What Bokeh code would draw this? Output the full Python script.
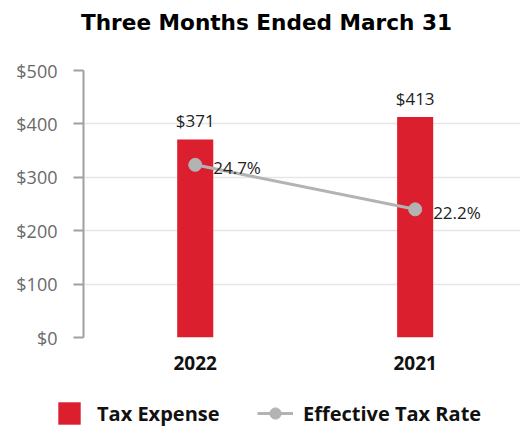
import numpy as np
from bokeh.plotting import figure
from bokeh.layouts import column, row
from bokeh.models import (ColumnDataSource, Range1d, FixedTicker, Legend, LegendItem,
                          LabelSet, Label)
from bokeh.core.properties import value
from bokeh.embed import file_html
from bokeh.resources import INLINE

# ---- data ----
categories = ["2022", "2021"]
tax_expense = [371, 413]
effective_rate = [24.7, 22.2]
tax_labels = ["$371", "$413"]
rate_labels = ["24.7%", "22.2%"]
y_ticks = [0, 100, 200, 300, 400, 500]
y_tick_labels = ["$0", "$100", "$200", "$300", "$400", "$500"]
title_text = "Three Months Ended March 31"
legend_labels = ["Tax Expense", "Effective Tax Rate"]

xs = list(range(len(categories)))
src = ColumnDataSource(dict(x=xs, tax=tax_expense, rate=effective_rate,
                            tax_lbl=tax_labels, rate_lbl=rate_labels))

RED = "#DC1F2F"
GRAY = "#B3B3B3"
FONT = "Open Sans"
W = 520


def bare(h):
    f = figure(width=W, height=h, output_backend="svg", toolbar_location=None,
               x_axis_location=None, y_axis_location=None,
               x_range=Range1d(0, W), y_range=Range1d(0, h))
    f.min_border = 0
    f.min_border_left = 0
    f.min_border_right = 0
    f.min_border_top = 0
    f.min_border_bottom = 0
    f.outline_line_color = None
    f.xgrid.visible = False
    f.ygrid.visible = False
    return f


# ---- title strip ----
TH = 40
tfig = bare(TH)
tfig.add_layout(Label(x=266, y=TH - 22, x_units="screen", y_units="screen", text=title_text,
                      text_align="center", text_baseline="middle",
                      text_font="DejaVu Sans", text_font_size="21.6px",
                      text_font_style="bold", text_color="#000000"))

# ---- main chart ----
p = figure(width=W, height=350, output_backend="svg", toolbar_location=None,
           x_range=Range1d(-0.508, 1.479), y_range=Range1d(0, 500))
p.min_border_left = 83
p.min_border_right = 0
p.min_border_top = 30
p.min_border_bottom = 53
p.outline_line_color = None

p.extra_y_ranges = {"rate": Range1d(15, 30)}

p.xgrid.grid_line_color = None
p.ygrid.grid_line_color = "#E6E6E6"
p.ygrid.grid_line_width = 1.5
p.ygrid.ticker = FixedTicker(ticks=y_ticks)

ya = p.yaxis[0]
ya.ticker = FixedTicker(ticks=y_ticks)
ya.major_label_overrides = {t: l for t, l in zip(y_ticks, y_tick_labels)}
ya.axis_line_color = "#A0A0A0"
ya.axis_line_width = 2
ya.major_tick_line_color = "#A0A0A0"
ya.major_tick_line_width = 2
ya.major_tick_in = 0
ya.major_tick_out = 10
ya.minor_tick_line_color = None
ya.major_label_standoff = 16
ya.major_label_text_font = FONT
ya.major_label_text_font_size = "18px"
ya.major_label_text_color = "#6A6A6A"

xa = p.xaxis[0]
xa.ticker = FixedTicker(ticks=xs)
xa.major_label_overrides = {i: c for i, c in zip(xs, categories)}
xa.axis_line_color = None
xa.major_tick_line_color = None
xa.minor_tick_line_color = None
xa.major_tick_out = 0
xa.major_tick_in = 0
xa.major_label_standoff = 18
xa.major_label_text_font = FONT
xa.major_label_text_font_size = "19px"
xa.major_label_text_font_style = "bold"
xa.major_label_text_color = "#111111"

p.vbar(x="x", top="tax", width=0.164, bottom=0, source=src,
       fill_color=RED, line_color=None)
p.line(x="x", y="rate", source=src, y_range_name="rate",
       line_color=GRAY, line_width=3)
p.scatter(x="x", y="rate", source=src, y_range_name="rate",
          size=13, fill_color=GRAY, line_color=GRAY)

p.add_layout(LabelSet(x="x", y="tax", text="tax_lbl", source=src,
                      text_align="center", text_baseline="alphabetic", y_offset=12,
                      text_font=value(FONT), text_font_size="17px", text_color="#222222"))
p.add_layout(LabelSet(x="x", y="rate", text="rate_lbl", source=src, y_range_name="rate",
                      text_align="left", text_baseline="middle", x_offset=18, y_offset=-3,
                      text_font=value(FONT), text_font_size="17px", text_color="#222222"))

# ---- legend strip ----
LH = 38
lfig = bare(LH)
empty = ColumnDataSource(dict(x=[np.nan], top=[np.nan], y=[np.nan]))
lb = lfig.vbar(x="x", top="top", width=1, source=empty, fill_color=RED, line_color=None)
ll = lfig.line(x="x", y="y", source=empty, line_color=GRAY, line_width=3)
lm = lfig.scatter(x="x", y="y", source=empty, size=12, fill_color=GRAY, line_color=GRAY)

common = dict(orientation="horizontal", padding=0, margin=0, border_line_color=None,
              background_fill_alpha=0, label_text_font=FONT, label_text_font_size="20px",
              label_text_font_style="bold", label_text_color="#111111",
              label_text_baseline="middle")
lfig.add_layout(Legend(items=[LegendItem(label=legend_labels[0], renderers=[lb])],
                       location=(55, 1), glyph_width=28, glyph_height=28,
                       label_standoff=14, **common), "center")
lfig.add_layout(Legend(items=[LegendItem(label=legend_labels[1], renderers=[ll, lm])],
                       location=(257, 1), glyph_width=36, glyph_height=28,
                       label_standoff=10, **common), "center")

layout = column(row(tfig), p, row(lfig), spacing=0)
open("out.html", "w").write(file_html(layout, INLINE))
